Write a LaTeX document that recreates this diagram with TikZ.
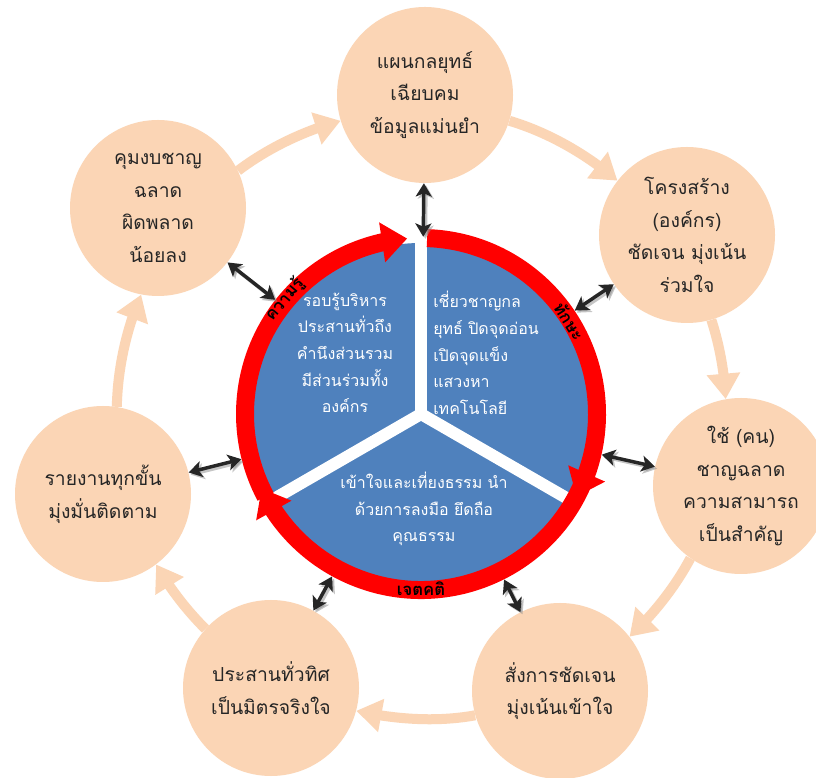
\documentclass[tikz,border=0pt]{standalone}
\usepackage{fontspec}
\newfontfamily\thai[Script=Thai]{Loma}
\usetikzlibrary{arrows.meta,bending,calc}
\definecolor{peach}{RGB}{251,213,181}
\definecolor{pieblue}{RGB}{79,129,189}
\definecolor{ringred}{RGB}{255,0,0}
\definecolor{txt}{RGB}{38,38,38}
\begin{document}
\begin{tikzpicture}[x=0.75pt,y=0.75pt,
  outer/.style={circle, fill=peach, minimum size=132pt, inner sep=0pt, align=center,
    text=txt, font=\thai\fontsize{14.5}{24.5}\selectfont},
  intext/.style={text=white, font=\thai\fontsize{12}{20}\selectfont, inner sep=0pt},
  ringlabel/.style={text=black, font=\thai\bfseries\fontsize{12.5}{13}\selectfont, inner sep=0pt},
  flow/.style={draw=peach, line width=7.5pt, looseness=0.85, -{Triangle[width=24pt,length=19pt]}},
  redarc/.style={draw=ringred, line width=13.5pt, -{Triangle[width=29pt,length=19pt]}},
  dbl/.style={draw=black!85, line width=2.6pt, {Stealth[length=10pt,width=12pt,inset=2.5pt]}-{Stealth[length=10pt,width=12pt,inset=2.5pt]}},
  dblshadow/.style={draw=black!45, opacity=0.5, line width=2.6pt, {Stealth[length=10pt,width=12pt,inset=2.5pt]}-{Stealth[length=10pt,width=12pt,inset=2.5pt]}}
]
\useasboundingbox (0,0) rectangle (816,777);
\fill[white] (0,0) rectangle (816,777);
\coordinate (C) at (421,363);

% outer circles
\node[outer] (oTop) at (425,682) {แผนกลยุทธ์\\เฉียบคม\\ข้อมูลแม่นยำ};
\node[outer] (oUR) at (687,542) {โครงสร้าง\\(องค์กร)\\ชัดเจน มุ่งเน้น\\ร่วมใจ};
\node[outer] (oR) at (741,291) {ใช้ (คน)\\ชาญฉลาด\\ความสามารถ\\เป็นสำคัญ};
\node[outer] (oBR) at (560,86) {สั่งการชัดเจน\\มุ่งเน้นเข้าใจ};
\node[outer] (oBL) at (271,89) {ประสานทั่วทิศ\\เป็นมิตรจริงใจ};
\node[outer] (oL) at (103,283) {รายงานทุกขั้น\\มุ่งมั่นติดตาม};
\node[outer] (oUL) at (158,569) {คุมงบชาญ\\ฉลาด\\ผิดพลาด\\น้อยลง};

% peach flow arrows (clockwise, along a ring of radius 305 round C)
\draw[flow] (oTop.-17.8) to[out=-16.7, in=139.8] (oUR.142);
\draw[flow] (oUR.-74.1) to[out=-72, in=92.7] (oR.100);
\draw[flow] (oR.-125.5) to[out=-118.1, in=43.1] (oBR.38);
\draw[flow] (oBR.-164.7) to[out=-169.7, in=-12.4] (oBL.-15.8);
\draw[flow] (oBL.138.4) to[out=135, in=-60.5] (oL.-53.2);
\draw[flow] (oL.81.4) to[out=88.7, in=246.8] (oUL.-101.4);
\draw[flow] (oUL.25.3) to[out=37, in=195.3] (oTop.-163.6);

% central pie
\fill[pieblue] (C) circle[radius=171];
\foreach \a in {90,-30,210} \draw[white, line width=9pt] (C) -- ++(\a:173);

% red ring arcs
\draw[redarc] ($(C)+(208:176)$) arc[start angle=208, end angle=94.5, radius=176];
\draw[redarc] ($(C)+(-22:176)$) arc[start angle=-22, end angle=-155, radius=176];
\draw[redarc] ($(C)+(88:176)$) arc[start angle=88, end angle=-28, radius=176];

\node[circle, minimum size=277.5pt, inner sep=0pt] (ring) at (C) {};

% ring labels
\node[ringlabel, rotate=50] (lblK) at ($(C)+(140:178)$) {ความรู้};
\node[ringlabel, rotate=-58] (lblT) at ($(C)+(32:175)$) {ทักษะ};
\node[ringlabel] (lblJ) at ($(C)+(-90:175)$) {เจตคติ};

% inner texts
\node[intext, align=center] (tLeft) at (345,424) {รอบรู้บริหาร\\ประสานทั่วถึง\\คำนึงส่วนรวม\\มีส่วนร่วมทั้ง\\องค์กร};
\node[intext, align=left, anchor=west] (tRight) at (433,424) {เชี่ยวชาญกล\\ยุทธ์ ปิดจุดอ่อน\\เปิดจุดแข็ง\\แสวงหา\\เทคโนโลยี};
\node[intext, align=center] (tBottom) at (424,268) {เข้าใจและเที่ยงธรรม นำ\\ด้วยการลงมือ ยึดถือ\\คุณธรรม};

% double arrows with shadow
\begin{scope}[transform canvas={shift={(1.6pt,-1.6pt)}}]
\draw[dblshadow, shorten <=-6pt] (ring) -- (oTop);
\foreach \n in {oUR,oR,oBR,oBL,oL,oUL} \draw[dblshadow] (ring) -- (\n);
\end{scope}
\draw[dbl, shorten <=-6pt] (ring) -- (oTop);
\foreach \n in {oUR,oR,oBR,oBL,oL,oUL} \draw[dbl] (ring) -- (\n);
\end{tikzpicture}
\end{document}
